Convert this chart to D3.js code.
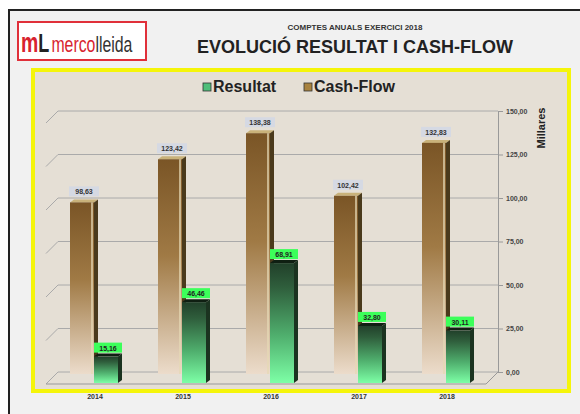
<!DOCTYPE html>
<html>
<head>
<meta charset="utf-8">
<script src="https://cdn.jsdelivr.net/npm/d3@7"></script>
<style>
  body { margin: 0; background: #fff; }
  text { font-family: "Liberation Sans", Arial, sans-serif; }
</style>
</head>
<body>
<script>
const svgW = 580;
const svgH = 414;

// data (miles d'euros)
const years = ['2014', '2015', '2016', '2017', '2018'];
const cashFlow = [98.63, 123.42, 138.38, 102.42, 132.83];
const resultat = [15.16, 46.46, 68.91, 32.80, 30.11];
const yTicks = [0, 25, 50, 75, 100, 125, 150];

const svg = d3.select('body')
  .append('svg')
  .attr('width', svgW)
  .attr('height', svgH);

const defs = svg.append('defs');
const gBrown = defs.append('linearGradient').attr('id', 'gBrown')
  .attr('x1', 0).attr('y1', 0).attr('x2', 0).attr('y2', 1);
gBrown.append('stop').attr('offset', '0%').attr('stop-color', '#7a5526');
gBrown.append('stop').attr('offset', '45%').attr('stop-color', '#a07a45');
gBrown.append('stop').attr('offset', '100%').attr('stop-color', '#ecdccb');
const gGreen = defs.append('linearGradient').attr('id', 'gGreen')
  .attr('x1', 0).attr('y1', 0).attr('x2', 0).attr('y2', 1);
gGreen.append('stop').attr('offset', '0%').attr('stop-color', '#21402a');
gGreen.append('stop').attr('offset', '20%').attr('stop-color', '#2f5e3c');
gGreen.append('stop').attr('offset', '60%').attr('stop-color', '#4fae6d');
gGreen.append('stop').attr('offset', '100%').attr('stop-color', '#7dffa6');

// marc exterior
svg.append('rect')
  .attr('x', 9).attr('y', 10).attr('width', 580).attr('height', 420)
  .attr('fill', '#f1f1f1').attr('stroke', '#222').attr('stroke-width', 2);

// logo (text estret amb scale)
const logo = svg.append('g');
logo.append('rect')
  .attr('x', 18).attr('y', 22).attr('width', 128).attr('height', 38)
  .attr('fill', '#fff').attr('stroke', '#e0303a').attr('stroke-width', 2);
const lt = logo.append('text')
  .attr('transform', 'translate(21, 52) scale(0.72, 1)')
  .style('font-size', '22px');
lt.append('tspan').attr('fill', '#d8232f').style('font-weight', 'bold').style('font-size', '27px').text('m');
lt.append('tspan').attr('fill', '#222').style('font-weight', 'bold').style('font-size', '25px').text('L');
lt.append('tspan').attr('fill', '#d8232f').attr('dx', 3).text('merco');
lt.append('tspan').attr('fill', '#333').text('lleida');

// titol
svg.append('text')
  .attr('x', 355).attr('y', 30)
  .attr('text-anchor', 'middle')
  .style('font-size', '8px').style('font-weight', 'bold').attr('fill', '#333')
  .text('COMPTES ANUALS  EXERCICI 2018');
svg.append('text')
  .attr('x', 355).attr('y', 53)
  .attr('text-anchor', 'middle')
  .style('font-size', '18px').style('font-weight', 'bold').attr('fill', '#222')
  .text('EVOLUCIÓ RESULTAT I CASH-FLOW');

// panell groc
svg.append('rect')
  .attr('x', 33).attr('y', 70).attr('width', 536).attr('height', 321)
  .attr('fill', '#e5dfd5').attr('stroke', '#f5f50a').attr('stroke-width', 4);

// llegenda
const legend = svg.append('g').attr('transform', 'translate(203, 89)');
const legItems = [
  { name: 'Resultat', color: '#4fbf7a', x: 0 },
  { name: 'Cash-Flow', color: '#a8823f', x: 101 }
];
legItems.forEach(d => {
  legend.append('rect')
    .attr('x', d.x).attr('y', -6).attr('width', 8).attr('height', 8)
    .attr('fill', d.color).attr('stroke', '#333').attr('stroke-width', 0.8);
  legend.append('text')
    .attr('x', d.x + 10).attr('y', 3)
    .style('font-size', '16px').style('font-weight', 'bold').attr('fill', '#222')
    .text(d.name);
});

// escales
const plotL = 58;
const plotR = 498;
const depth = 12;
const x = d3.scaleBand().domain(years).range([plotL, plotR]).paddingInner(0).paddingOuter(0);
const y = d3.scaleLinear().domain([0, 150]).range([372, 111]);

const g = svg.append('g');

// graella (paret del fons)
yTicks.forEach(t => {
  g.append('line')
    .attr('x1', plotL).attr('x2', plotR).attr('y1', y(t)).attr('y2', y(t))
    .attr('stroke', '#aaa').attr('stroke-width', 1);
  g.append('line')
    .attr('x1', plotL).attr('x2', plotL - depth).attr('y1', y(t)).attr('y2', y(t) + depth)
    .attr('stroke', '#aaa').attr('stroke-width', 1);
});
// terra
g.append('line')
  .attr('x1', plotL - depth).attr('x2', plotR - depth)
  .attr('y1', y(0) + depth).attr('y2', y(0) + depth)
  .attr('stroke', '#999');
g.append('line')
  .attr('x1', plotR).attr('x2', plotR - depth)
  .attr('y1', y(0)).attr('y2', y(0) + depth)
  .attr('stroke', '#999');

// eix dret
const yAxis = d3.axisRight(y)
  .tickValues(yTicks)
  .tickSize(5)
  .tickFormat(d => d3.format('.2f')(d).replace('.', ','));
const ax = svg.append('g')
  .attr('transform', `translate(${plotR}, 0)`)
  .call(yAxis);
ax.select('.domain').attr('stroke', '#999');
ax.selectAll('.tick line').attr('stroke', '#999');
ax.selectAll('.tick text')
  .style('font-size', '7px').style('font-weight', 'bold').attr('fill', '#444');

svg.append('text')
  .attr('transform', `translate(545, 128) rotate(-90)`)
  .attr('text-anchor', 'middle')
  .style('font-size', '11px').style('font-weight', 'bold').attr('fill', '#222')
  .text('Millares');

// eix x
g.selectAll('.xlab')
  .data(years)
  .enter()
  .append('text')
  .attr('class', 'xlab')
  .attr('x', d => x(d) + x.bandwidth() / 2 - 7)
  .attr('y', 399)
  .attr('text-anchor', 'middle')
  .style('font-size', '7px').style('font-weight', 'bold').attr('fill', '#333')
  .text(d => d);

const fmt = v => d3.format('.2f')(v).replace('.', ',');
const barW = 24;
const side = 4;

function drawBar(sel, bx, base, top, grad, sideColor, topColor) {
  const h = base - top;
  sel.append('polygon')
    .attr('points', `${bx},${top} ${bx + side},${top - 3} ${bx + barW + side},${top - 3} ${bx + barW},${top}`)
    .attr('fill', topColor);
  sel.append('polygon')
    .attr('points', `${bx + barW},${top} ${bx + barW + side},${top - 3} ${bx + barW + side},${base - 3} ${bx + barW},${base}`)
    .attr('fill', sideColor);
  sel.append('rect')
    .attr('x', bx).attr('y', top).attr('width', barW).attr('height', h)
    .attr('fill', grad);
}

// barres cash-flow (al fons)
const cfG = g.selectAll('.cf')
  .data(years)
  .enter()
  .append('g')
  .attr('class', 'cf');
cfG.each(function(d, i) {
  const bx = x(d) + 12;
  drawBar(d3.select(this), bx, y(0) + 2, y(cashFlow[i]) + 2, 'url(#gBrown)', '#4a3a1c', '#c9b27a');
  d3.select(this).append('rect')
    .attr('x', bx + barW - 3).attr('y', y(cashFlow[i]) + 2).attr('width', 2).attr('height', y(0) - y(cashFlow[i]))
    .attr('fill', '#e6d9b5').attr('opacity', 0.7);
});
cfG.append('rect')
  .attr('x', (d, i) => x(d) + 11)
  .attr('y', (d, i) => y(cashFlow[i]) - 14)
  .attr('width', 30).attr('height', 10)
  .attr('fill', '#d5d9e3');
cfG.append('text')
  .attr('x', (d, i) => x(d) + 26)
  .attr('y', (d, i) => y(cashFlow[i]) - 6)
  .attr('text-anchor', 'middle')
  .style('font-size', '7px').style('font-weight', 'bold').attr('fill', '#333')
  .text((d, i) => fmt(cashFlow[i]));

// barres resultat (al davant)
const rG = g.selectAll('.res')
  .data(years)
  .enter()
  .append('g')
  .attr('class', 'res');
rG.each(function(d, i) {
  const bx = x(d) + 36;
  drawBar(d3.select(this), bx, y(0) + 11, y(resultat[i]) + 11, 'url(#gGreen)', '#1b3320', '#0f1f12');
});
rG.append('rect')
  .attr('x', (d, i) => x(d) + 36)
  .attr('y', (d, i) => y(resultat[i]) - 3)
  .attr('width', 28).attr('height', 10)
  .attr('fill', '#3cff5a');
rG.append('text')
  .attr('x', (d, i) => x(d) + 50)
  .attr('y', (d, i) => y(resultat[i]) + 5)
  .attr('text-anchor', 'middle')
  .style('font-size', '7px').style('font-weight', 'bold').attr('fill', '#222')
  .text((d, i) => fmt(resultat[i]));
</script>
</body>
</html>
